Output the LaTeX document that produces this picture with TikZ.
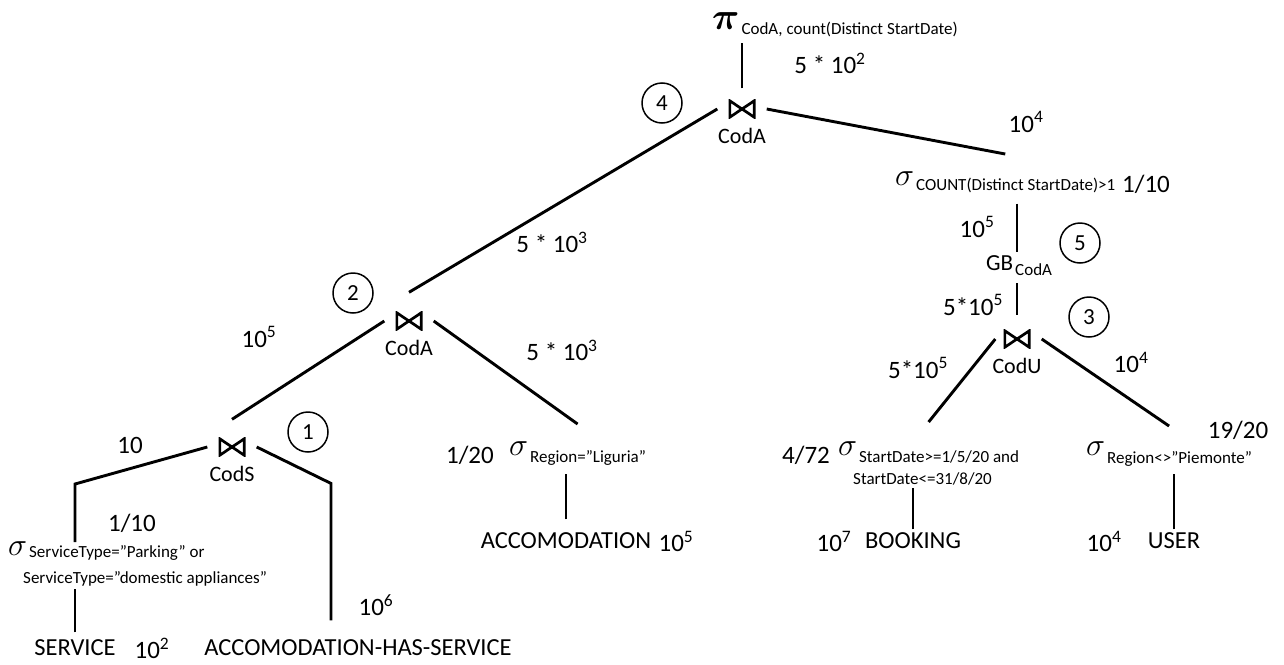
\RequirePackage{fix-cm}
\documentclass[tikz,border=0pt]{standalone}
\usepackage{fontspec}
\setmainfont{Carlito}
\newcommand\opsub[2][-7pt]{\kern2pt\raisebox{#1}{\fontsize{17}{20}\selectfont #2}}

\begin{document}
\begin{tikzpicture}[x=1pt,y=-1pt,
  link/.style={line width=2.9pt},
  joinop/.style={minimum width=27pt,minimum height=19pt,inner sep=0pt,
    path picture={\draw[line width=2.7pt]
      ([shift={(1.3pt,-1.3pt)}]path picture bounding box.north west) --
      ([shift={(-1.3pt,1.3pt)}]path picture bounding box.south east) --
      ([shift={(-1.3pt,-1.3pt)}]path picture bounding box.north east) --
      ([shift={(1.3pt,1.3pt)}]path picture bounding box.south west) -- cycle;}},
  stepno/.style={circle,draw,line width=1.5pt,minimum size=40pt,inner sep=0pt,font=\fontsize{23}{23}\selectfont},
  card/.style={font=\fontsize{25}{28}\selectfont},
  rel/.style={font=\fontsize{24.5}{28}\selectfont},
  attr/.style={font=\fontsize{22}{24}\selectfont},
  sel/.style={anchor=base west,inner sep=3pt,font=\fontsize{32}{32}\selectfont},
  subline/.style={anchor=base west,inner sep=3pt,font=\fontsize{17}{20}\selectfont}]

\useasboundingbox (0,0) rectangle (1284,664);

\node[sel,font=\fontsize{38}{38}\selectfont\boldmath] (proj) at (709,29) {$\pi$\opsub[-5pt]{CodA, count(Distinct StartDate)}};

\node[joinop,label={[attr,label distance=6pt]below:CodA}] (j4) at (742,109) {};
\node[joinop,label={[attr,label distance=6pt]below:CodA}] (j2) at (409,321) {};
\node[joinop,label={[attr,label distance=6pt]below:CodS}] (j1) at (232,447) {};
\node[joinop,label={[attr,label distance=6pt]below:CodU}] (j3) at (1017,339) {};

\node[sel] (selC) at (892,185) {$\sigma$\opsub[-5pt]{COUNT(Distinct StartDate)>1}};
\node[anchor=base west,inner sep=3pt,font=\fontsize{23}{26}\selectfont] (gb) at (983,270) {GB\opsub[-5pt]{CodA}};
\node[sel] (selB) at (835,455) {$\sigma$\opsub{StartDate>=1/5/20 and}};
\node[subline] (selB2) at (850,484) {StartDate<=31/8/20};
\node[sel] (selU) at (1083,455) {$\sigma$\opsub[-8pt]{Region<>”Piemonte”}};
\node[sel] (selL) at (506,455) {$\sigma$\opsub{Region=”Liguria”}};
\node[sel] (selS) at (5,555) {$\sigma$\opsub[-2pt]{ServiceType=”Parking” or}};
\node[subline] (selS2) at (20,583) {ServiceType=”domestic appliances”};

\node[rel] (accom) at (566,541) {ACCOMODATION};
\node[rel] (booking) at (913,541) {BOOKING};
\node[rel] (user) at (1174,541) {USER};
\node[rel] (service) at (75,648) {SERVICE};
\node[rel] (ahs) at (358,648) {ACCOMODATION-HAS-SERVICE};

\node[stepno] (s1) at (308,432) {1};
\node[stepno] (s2) at (353,293) {2};
\node[stepno] (s3) at (1089,317) {3};
\node[stepno] (s4) at (662,103) {4};
\node[stepno] (s5) at (1080,243) {5};

\node[card] (n52) at (830,63) {5 * 10\textsuperscript{2}};
\node[card] (n104a) at (1026,122) {10\textsuperscript{4}};
\node[card] (n53a) at (552,242) {5 * 10\textsuperscript{3}};
\node[card] (n110a) at (1146,184) {1/10};
\node[card] (n105a) at (977,227) {10\textsuperscript{5}};
\node[card] (n5105a) at (973,305) {5*10\textsuperscript{5}};
\node[card] (n5105b) at (918,368) {5*10\textsuperscript{5}};
\node[card] (n104b) at (1131,362) {10\textsuperscript{4}};
\node[card] (n105b) at (259,337) {10\textsuperscript{5}};
\node[card] (n53b) at (562,350) {5 * 10\textsuperscript{3}};
\node[card] (n10) at (130,445) {10};
\node[card] (n120) at (470,455) {1/20};
\node[card] (n472) at (806,455) {4/72};
\node[card] (n1920) at (1238,430) {19/20};
\node[card] (n110b) at (132,523) {1/10};
\node[card] (n106) at (376,605) {10\textsuperscript{6}};
\node[card] (n105c) at (676,541) {10\textsuperscript{5}};
\node[card] (n107) at (834,541) {10\textsuperscript{7}};
\node[card] (n104c) at (1104,541) {10\textsuperscript{4}};
\node[card] (n102) at (152,648) {10\textsuperscript{2}};

\draw[link] ([yshift=11pt]j4.north) -- ([yshift=-3pt]proj.south -| j4);
\draw[link] ([xshift=-11pt]j4.west) -- ([yshift=19pt]j2.north);
\draw[link] ([xshift=11pt]j4.east) -- ([yshift=14pt]selC.north);
\draw[link] ([yshift=-8pt]selC.south -| j3) -- (gb.north -| j3);
\draw[link] ([yshift=-5pt]gb.south -| j3) -- ([yshift=14pt]j3.north);
\draw[link] ([xshift=-8pt]j3.west) -- ([yshift=16pt]selB.north);
\draw[link] ([xshift=11pt]j3.east) -- ([yshift=12pt]selU.north);
\draw[link] (booking.north) -- (booking.north |- selB2.south);
\draw[link] (user.north) -- ([yshift=-5pt]user.north |- selU.south);
\draw[link] ([xshift=-11pt]j2.west) -- ([yshift=18pt]j1.north);
\draw[link] ([xshift=11pt]j2.east) -- ([yshift=14pt]selL.north);
\draw[link] ([yshift=10pt]accom.north) -- ([yshift=-6pt]accom.north |- selL.south);
\draw[link] ([xshift=-11pt]j1.west) -- ([yshift=54pt]selS.north -| service)
  -- ([yshift=-4pt]selS.north -| service);
\draw[link] ([yshift=4pt]service.north) -- (service.north |- selS2.south);
\draw[link] ([xshift=11pt]j1.east) -- ([xshift=-27pt,yshift=153pt]ahs.north)
  -- ([xshift=-27pt,yshift=16pt]ahs.north);
\end{tikzpicture}
\end{document}
